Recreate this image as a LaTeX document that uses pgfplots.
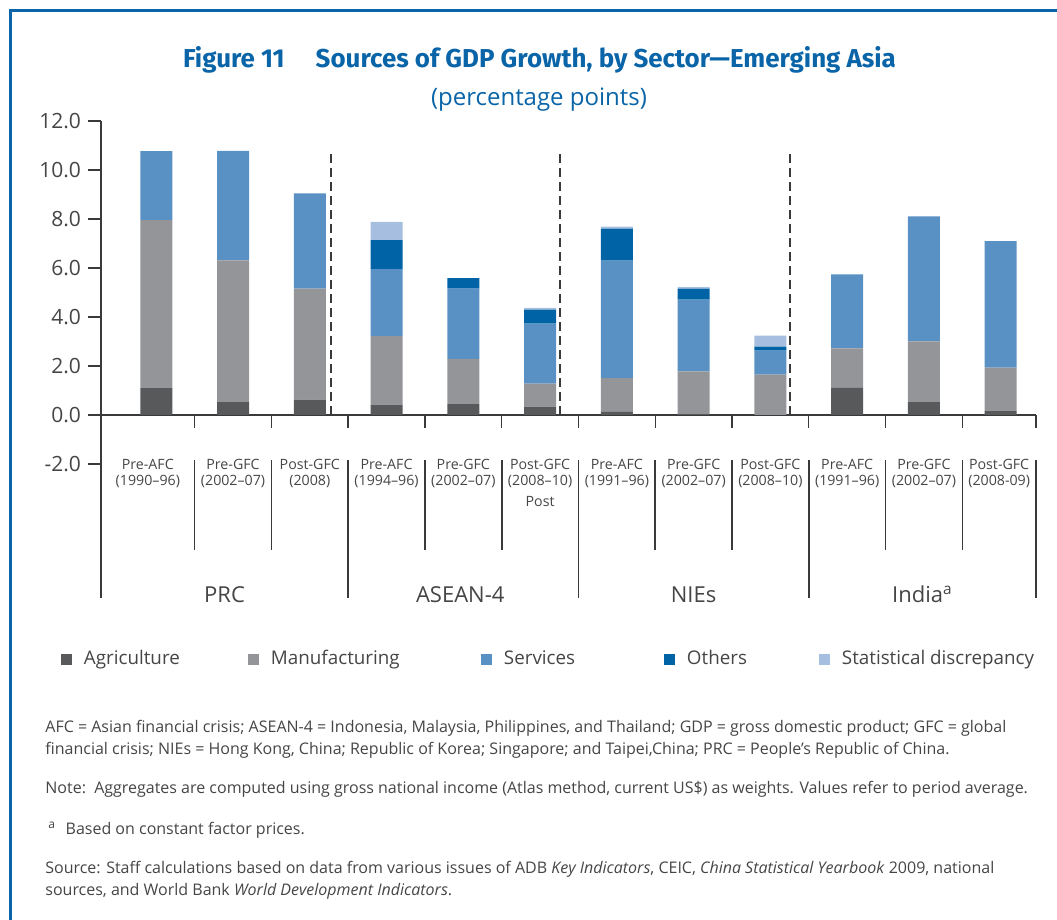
\documentclass[border=0pt]{standalone}
\usepackage{pgfplots}
\pgfplotsset{compat=1.18}
\usepackage{fontspec}
\setmainfont{Open Sans}
\newfontfamily\titlefont{Fira Sans}
\definecolor{agri}{HTML}{58595B}
\definecolor{manu}{HTML}{949598}
\definecolor{serv}{HTML}{5A91C4}
\definecolor{oth}{HTML}{0063A6}
\definecolor{disc}{HTML}{A6BEE0}
\definecolor{adbblue}{HTML}{0A64A8}
\definecolor{txt}{HTML}{3A3A3A}
\definecolor{ltxt}{HTML}{454545}
\tikzset{catlab/.style={anchor=north, align=center, inner sep=0pt, text=ltxt, font=\fontsize{7.1}{8.2}\selectfont},
  grplab/.style={anchor=base, inner sep=0pt, text=ltxt, font=\fontsize{11}{13}\selectfont}}
\begin{document}
\begin{tikzpicture}
\useasboundingbox (0,0) rectangle (528.5pt,-460pt);
\draw[adbblue, line width=1.5pt] (5pt,-462pt) -- (5pt,-5.5pt) -- (530pt,-5.5pt);
\node[adbblue, font=\titlefont\bfseries\fontsize{12.95}{14}\selectfont, anchor=base] at (269.75pt,-34pt)
  {Figure 11\hspace{1.2em}Sources of GDP Growth, by Sector—Emerging Asia};
\node[adbblue, font=\fontsize{12}{14}\selectfont, anchor=base] at (269.5pt,-53pt) {(percentage points)};

\begin{axis}[
  scale only axis, width=467.5pt, height=238.5pt,
  at={(50.5pt,-299pt)}, anchor=south west,
  xmin=-0.72, xmax=11.46, ymin=-7.47, ymax=12,
  axis x line=none, axis y line*=left,
  ytick={-2,0,2,4,6,8,10,12},
  yticklabels={-2.0,0.0,2.0,4.0,6.0,8.0,10.0,12.0},
  tick align=outside, major tick length=6.5pt,
  y axis line style={color=txt, line width=0.6pt},
  tick style={txt, line width=0.6pt},
  yticklabel style={font=\fontsize{10.5}{12}\selectfont, text=ltxt},
  ybar stacked, bar width=16pt,
  clip=false,
  legend columns=5,
  legend image code/.code={\draw[#1,draw=none] (0pt,-2.75pt) rectangle (5.5pt,2.75pt);},
  legend style={at={(-0.0428,-0.128)}, anchor=west, draw=none, fill=none,
    inner sep=0pt, outer sep=0pt, column sep=0pt,
    /tikz/every odd column/.append style={column sep=6pt},
    nodes={inner sep=0pt, text=ltxt, font=\fontsize{9.4}{11}\selectfont}},
]
\addplot[fill=agri, draw=none] coordinates {(0,1.10)(1,0.53)(2,0.63)(3,0.42)(4,0.46)(5,0.34)(6,0.13)(7,0.03)(8,0)(9,1.11)(10,0.53)(11,0.18)};
\addplot[fill=manu, draw=none] coordinates {(0,6.85)(1,5.78)(2,4.53)(3,2.80)(4,1.83)(5,0.94)(6,1.37)(7,1.75)(8,1.65)(9,1.61)(10,2.48)(11,1.75)};
\addplot[fill=serv, draw=none] coordinates {(0,2.82)(1,4.47)(2,3.89)(3,2.73)(4,2.87)(5,2.45)(6,4.80)(7,2.93)(8,0.98)(9,3.02)(10,5.10)(11,5.17)};
\addplot[fill=oth, draw=none] coordinates {(0,0)(1,0)(2,0)(3,1.19)(4,0.43)(5,0.57)(6,1.31)(7,0.45)(8,0.16)(9,0)(10,0)(11,0)};
\addplot[fill=disc, draw=none] coordinates {(0,0)(1,0)(2,0)(3,0.74)(4,0)(5,0.07)(6,0.08)(7,0.06)(8,0.45)(9,0)(10,0)(11,0)};
\legend{\makebox[82pt][l]{Agriculture},\makebox[105pt][l]{Manufacturing},\makebox[80pt][l]{Services},\makebox[66pt][l]{Others},Statistical discrepancy}

\draw[txt, line width=0.7pt] (axis cs:-0.72,0) -- (axis cs:11.46,0);
\pgfplotsinvokeforeach{0.5,1.5,2.5,3.5,4.5,5.5,6.5,7.5,8.5,9.5,10.5,11.46}{
  \draw[txt, line width=0.7pt] (axis cs:#1,0) -- (axis cs:#1,-0.53);
}
\pgfplotsinvokeforeach{0.5,1.5,3.5,4.5,6.5,7.5,9.5,10.5}{
  \draw[txt, line width=0.8pt] (axis cs:#1,-1.84) -- (axis cs:#1,-5.51);
}
\pgfplotsinvokeforeach{2.5,5.5,8.5,11.46}{
  \draw[txt, line width=0.8pt] (axis cs:#1,-1.84) -- (axis cs:#1,-7.47);
}
\pgfplotsinvokeforeach{2.28,5.26,8.26}{
  \draw[txt, line width=0.9pt, dash pattern=on 4.5pt off 2.5pt] (axis cs:#1,0) -- (axis cs:#1,10.8);
}
\node[catlab] at (axis cs:-0.11,-1.78) {Pre-AFC\\(1990--96)};
\node[catlab] at (axis cs:1,-1.78) {Pre-GFC\\(2002--07)};
\node[catlab] at (axis cs:2,-1.78) {Post-GFC\\(2008)};
\node[catlab] at (axis cs:3,-1.78) {Pre-AFC\\(1994--96)};
\node[catlab] at (axis cs:4,-1.78) {Pre-GFC\\(2002--07)};
\node[catlab] at (axis cs:5,-1.78) {Post-GFC\\(2008--10)\\[2pt]Post};
\node[catlab] at (axis cs:6,-1.78) {Pre-AFC\\(1991--96)};
\node[catlab] at (axis cs:7,-1.78) {Pre-GFC\\(2002--07)};
\node[catlab] at (axis cs:8,-1.78) {Post-GFC\\(2008--10)};
\node[catlab] at (axis cs:9,-1.78) {Pre-AFC\\(1991--96)};
\node[catlab] at (axis cs:10,-1.78) {Pre-GFC\\(2002--07)};
\node[catlab] at (axis cs:10.98,-1.78) {Post-GFC\\(2008-09)};
\node[grplab] at (axis cs:0.89,-7.67) {PRC};
\node[grplab] at (axis cs:3.96,-7.67) {ASEAN-4};
\node[grplab] at (axis cs:7,-7.67) {NIEs};
\node[grplab] at (axis cs:9.98,-7.67) {India\textsuperscript{a}};
\end{axis}

\begin{scope}[every node/.style={anchor=base west, inner sep=0pt, text=ltxt, font=\fontsize{8}{9}\selectfont}]
\node at (22.5pt,-366pt) {AFC = Asian financial crisis; ASEAN-4 = Indonesia, Malaysia, Philippines, and Thailand; GDP = gross domestic product; GFC = global};
\node at (22.5pt,-377pt) {financial crisis; NIEs = Hong Kong, China; Republic of Korea; Singapore; and Taipei,China; PRC = People's Republic of China.};
\node at (22.5pt,-396.5pt) {Note:\ \ Aggregates are computed using gross national income (Atlas method, current US\$) as weights. Values refer to period average.};
\node at (24pt,-417pt) {\textsuperscript{a}\hspace{0.6em}Based on constant factor prices.};
\node at (22.5pt,-436.5pt) {Source: Staff calculations based on data from various issues of ADB \textit{Key Indicators}, CEIC, \textit{China Statistical Yearbook} 2009, national};
\node at (22.5pt,-447.5pt) {sources, and World Bank \textit{World Development Indicators}.};
\end{scope}
\end{tikzpicture}
\end{document}
